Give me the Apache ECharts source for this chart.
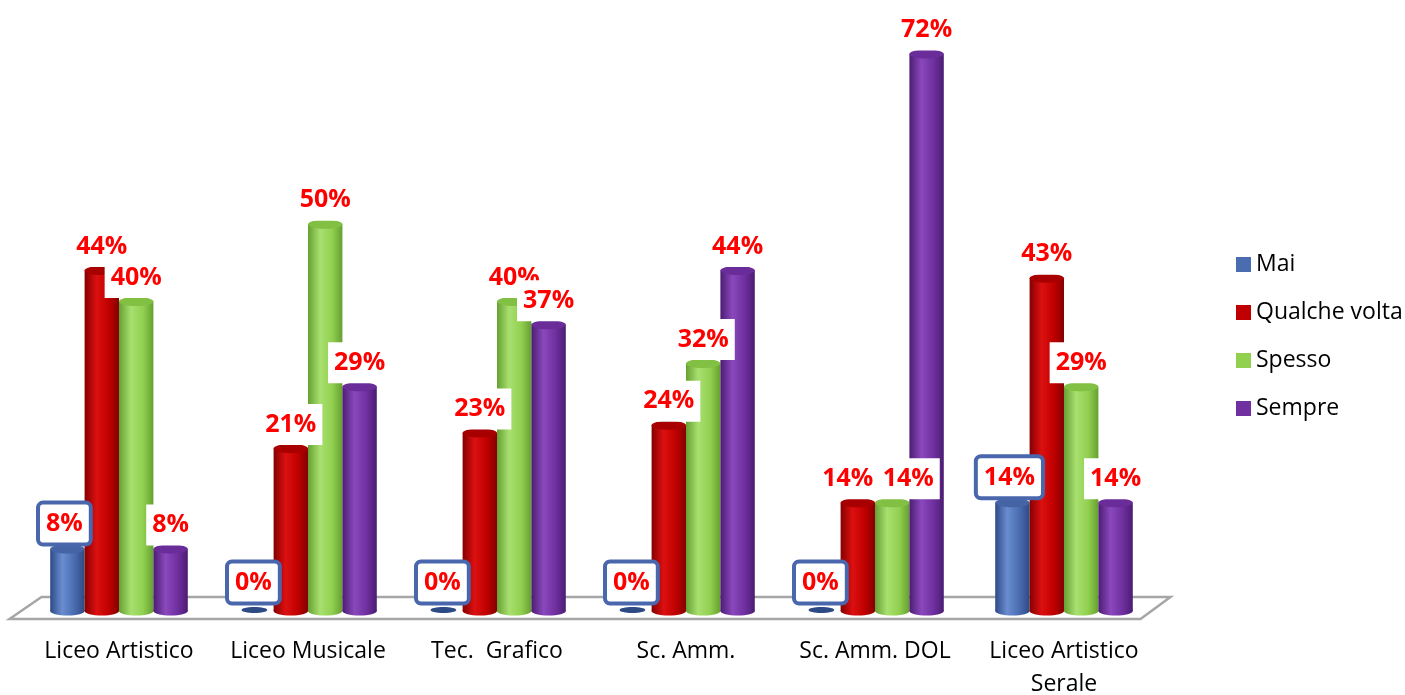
<!DOCTYPE html>
<html>
<head>
<meta charset="utf-8">
<style>
  html, body { margin: 0; padding: 0; background: #fff; }
  #chart { width: 1405px; height: 695px; }
</style>
<script src="https://cdn.jsdelivr.net/npm/echarts@6/dist/echarts.min.js"></script>
</head>
<body>
<div id="chart"></div>
<script>
// categorie e valori (%)
var categories = ['Liceo Artistico', 'Liceo Musicale', 'Tec.  Grafico', 'Sc. Amm.', 'Sc. Amm. DOL', 'Liceo Artistico\nSerale']
var seriesNames = ['Mai', 'Qualche volta', 'Spesso', 'Sempre']
var mai = [8, 0, 0, 0, 0, 14]
var qualcheVolta = [44, 21, 23, 24, 14, 43]
var spesso = [40, 50, 40, 32, 14, 29]
var sempre = [8, 29, 37, 44, 72, 14]

var FONT = '"Open Sans", sans-serif'
var lists = [mai, qualcheVolta, spesso, sempre]

var palette = [
  { main: '#4a6cb0', dark: '#2e4a85', light: '#6a8dd0', top: '#4464a6' },
  { main: '#c00000', dark: '#850000', light: '#dc1010', top: '#a80000' },
  { main: '#92d050', dark: '#65a030', light: '#a8e070', top: '#82c044' },
  { main: '#7030a0', dark: '#4b1d72', light: '#8a48bc', top: '#6a2c98' }
]

function cylinder(k) {
  return function (params, api) {
    var cat = api.value(0)
    var val = api.value(1)
    var base = api.coord([cat, 0])
    var top = api.coord([cat, val])
    var band = api.size([1, 0])[0]
    var w = band * 0.182
    var cx = base[0] + (k - 1.5) * w
    var rx = w / 2
    var ry = 4.5
    var c = palette[k]
    var grad = new echarts.graphic.LinearGradient(0, 0, 1, 0, [
      { offset: 0, color: c.dark },
      { offset: 0.35, color: c.light },
      { offset: 0.7, color: c.main },
      { offset: 1, color: c.dark }
    ])
    var children = []
    if (val > 0) {
      children.push({ type: 'ellipse', shape: { cx: cx, cy: base[1], rx: rx, ry: ry }, style: { fill: grad } })
      children.push({ type: 'rect', shape: { x: cx - rx, y: top[1], width: w, height: base[1] - top[1] }, style: { fill: grad } })
      children.push({ type: 'ellipse', shape: { cx: cx, cy: top[1], rx: rx, ry: ry }, style: { fill: c.top } })
    } else {
      children.push({ type: 'ellipse', shape: { cx: cx - 2, cy: base[1] - 1, rx: rx * 0.75, ry: 3 }, style: { fill: c.dark } })
    }
    // spostamento etichette quando due vicine hanno la stessa altezza
    var dx = 0
    if (k < 3 && Math.abs(lists[k + 1][cat] - val) < 3) dx -= 10
    if (k > 0 && Math.abs(lists[k - 1][cat] - val) < 3) dx += 16
    var boxed = k === 0
    children.push({
      type: 'text',
      z2: 100,
      x: cx + dx - (boxed ? 3 : 0),
      y: top[1] - ry - (boxed ? 2 : -1) - (val > 0 ? 0 : 3),
      style: {
        text: val + '%',
        fill: '#ff0000',
        font: 'bold 25px ' + FONT,
        align: 'center',
        verticalAlign: 'bottom',
        backgroundColor: '#fff',
        padding: boxed ? [7, 6, 6, 6] : [8, 6, 8, 6],
        borderColor: boxed ? '#4a66ac' : 'transparent',
        borderWidth: boxed ? 4 : 0,
        borderRadius: boxed ? 3 : 0
      }
    })
    return { type: 'group', children: children }
  }
}

function floor(params, api) {
  var cs = params.coordSys
  var y0 = api.coord([0, 0])[1]
  return {
    type: 'polygon',
    shape: {
      points: [
        [cs.x - 15, y0 + 8],
        [cs.x + cs.width - 18, y0 + 8],
        [cs.x + cs.width + 12, y0 - 14],
        [cs.x + 17, y0 - 14]
      ]
    },
    style: { fill: '#fff', stroke: '#a6a6a6', lineWidth: 2.5 }
  }
}

var series = [{
  type: 'custom',
  name: 'floor',
  silent: true,
  data: [[0, 0]],
  renderItem: floor
}]
lists.forEach(function (arr, k) {
  series.push({
    type: 'custom',
    name: seriesNames[k],
    itemStyle: { color: palette[k].main },
    data: arr.map(function (v, i) { return [i, v] }),
    renderItem: cylinder(k)
  })
})

var chart = echarts.init(document.getElementById('chart'))
chart.setOption({
  animation: false,
  grid: { left: 24.5, right: 246.5, top: 54, bottom: 84, containLabel: false, outerBoundsMode: 'none' },
  legend: {
    data: seriesNames,
    orient: 'vertical',
    left: 1231,
    top: 248,
    icon: 'rect',
    itemWidth: 15,
    itemHeight: 15,
    itemGap: 25,
    textStyle: { fontSize: 23, color: '#000', fontFamily: FONT, lineHeight: 23 }
  },
  xAxis: {
    type: 'category',
    data: categories,
    axisLine: { show: false },
    axisTick: { show: false },
    axisLabel: { interval: 0, hideOverlap: false, margin: 24, fontSize: 23, color: '#000', fontFamily: FONT, lineHeight: 33 }
  },
  yAxis: { type: 'value', min: 0, max: 72, show: false },
  series: series
})
</script>
</body>
</html>
